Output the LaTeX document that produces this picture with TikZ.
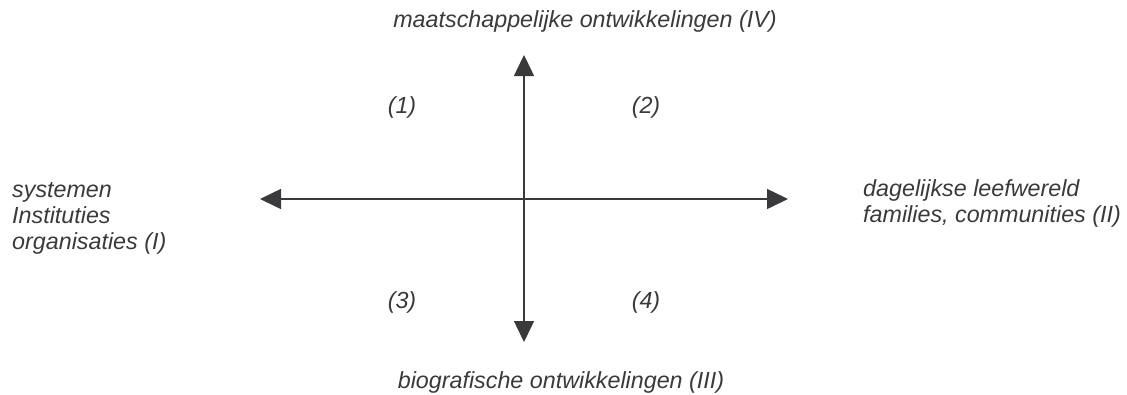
\documentclass[tikz,border=0pt]{standalone}
\usepackage{fontspec}
\setmainfont{Liberation Sans}
\usetikzlibrary{arrows.meta}
\definecolor{ink}{HTML}{3A3A3C}
\tikzset{
  axis/.style={draw=ink, line width=1.5pt, -{Triangle[length=21pt,width=20pt]}},
  lbl/.style={inner sep=0pt, text=ink, font=\fontsize{23.3}{26}\selectfont\itshape},
  blk/.style={lbl, align=left, anchor=base west}
}
\begin{document}
\begin{tikzpicture}[x=1pt,y=-1pt]
\useasboundingbox (0,0) rectangle (1127,394);
\coordinate (c) at (524,199);
\coordinate (top) at (524,55);
\coordinate (bot) at (524,342);
\coordinate (lft) at (260,199);
\coordinate (rgt) at (788,199);
\draw[axis] (c) -- (top);
\draw[axis] (c) -- (bot);
\draw[axis] (c) -- (lft);
\draw[axis] (c) -- (rgt);
\node[lbl, anchor=base] (tIV) at (585,27) {maatschappelijke ontwikkelingen (IV)};
\node[lbl, anchor=base] (tIII) at (561,388) {biografische ontwikkelingen (III)};
\node[lbl] (q1) at (402,107) {(1)};
\node[lbl] (q2) at (646,107) {(2)};
\node[lbl] (q3) at (402,302) {(3)};
\node[lbl] (q4) at (646,302) {(4)};
\node[blk] (tI) at (12,249) {systemen\\Instituties\\organisaties (I)};
\node[blk] (tII) at (863,222) {dagelijkse leefwereld\\families, communities (II)};
\end{tikzpicture}
\end{document}
